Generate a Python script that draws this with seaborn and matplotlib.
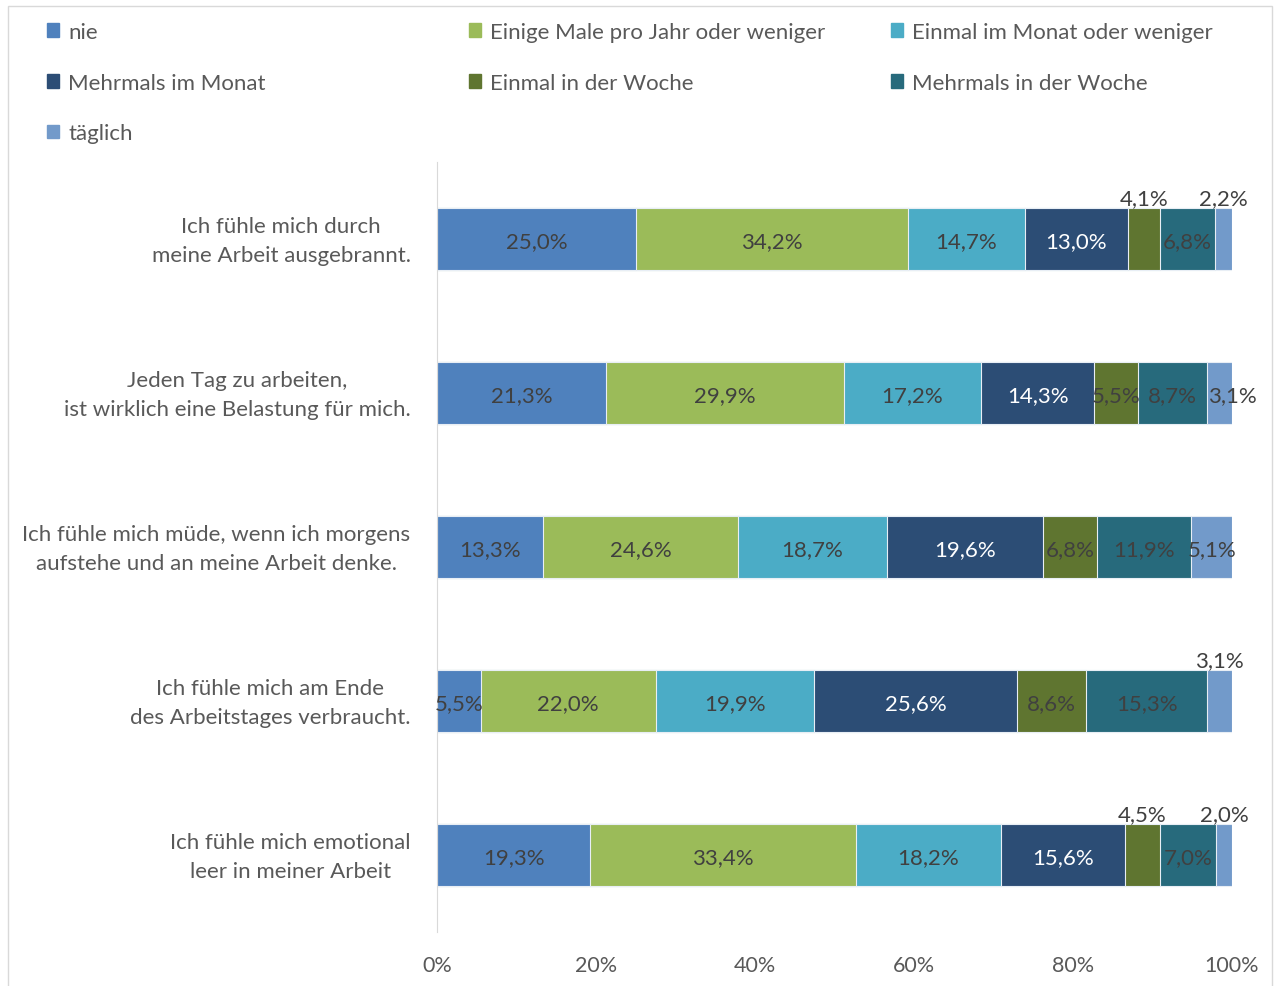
import numpy as np
import pandas as pd
import matplotlib
matplotlib.use("Agg")
import matplotlib.pyplot as plt
import matplotlib.patches as mpatches
import matplotlib.transforms as mtransforms
import seaborn as sns

statements = [
    "Ich fühle mich durch\nmeine Arbeit ausgebrannt.",
    "Jeden Tag zu arbeiten,\nist wirklich eine Belastung für mich.",
    "Ich fühle mich müde, wenn ich morgens\naufstehe und an meine Arbeit denke.",
    "Ich fühle mich am Ende\ndes Arbeitstages verbraucht.",
    "Ich fühle mich emotional\nleer in meiner Arbeit",
]
categories = [
    "nie",
    "Einige Male pro Jahr oder weniger",
    "Einmal im Monat oder weniger",
    "Mehrmals im Monat",
    "Einmal in der Woche",
    "Mehrmals in der Woche",
    "täglich",
]
nie = [25.0, 21.3, 13.3, 5.5, 19.3]
einige_male = [34.2, 29.9, 24.6, 22.0, 33.4]
einmal_monat = [14.7, 17.2, 18.7, 19.9, 18.2]
mehrmals_monat = [13.0, 14.3, 19.6, 25.6, 15.6]
einmal_woche = [4.1, 5.5, 6.8, 8.6, 4.5]
mehrmals_woche = [6.8, 8.7, 11.9, 15.3, 7.0]
taeglich = [2.2, 3.1, 5.1, 3.1, 2.0]

colors = ["#4F81BD", "#9BBB59", "#4BACC6", "#2C4D75", "#5F7530", "#276A7C", "#729ACA"]
# labels drawn above the bar (row index, category index)
above = {(0, 4), (0, 6), (3, 6), (4, 4), (4, 6)}

values = np.array([nie, einige_male, einmal_monat, mehrmals_monat,
                   einmal_woche, mehrmals_woche, taeglich]).T
cum = values.cumsum(axis=1)

sns.set_style("white")
plt.rcParams["font.family"] = ["Lato", "DejaVu Sans"]

fig = plt.figure(figsize=(12.74, 9.87), dpi=100)
ax = fig.add_axes([437 / 1274, 1 - 933 / 987, 795 / 1274, 770 / 987])

# stacked bars: draw cumulative totals from the last category backwards
for j in range(len(categories) - 1, -1, -1):
    df = pd.DataFrame({"stmt": statements, "val": cum[:, j]})
    sns.barplot(data=df, x="val", y="stmt", order=statements, orient="h",
                color=colors[j], saturation=1, width=0.4,
                edgecolor="#E8EEF5", linewidth=0.8, ax=ax)

fs = 16
for i in range(len(statements)):
    for j in range(len(categories)):
        v = values[i, j]
        xc = cum[i, j] - v / 2
        lab = f"{v:.1f}%".replace(".", ",")
        if (i, j) in above:
            ax.text(xc, i - 0.225, lab, ha="center", va="baseline", fontsize=fs, color="#404040")
        else:
            if i == 1 and j == 6:
                xc += 1.6
            tc = "white" if j == 3 else "#404040"
            ax.text(xc, i + 0.012, lab, ha="center", va="center", fontsize=fs, color=tc)

ax.set_xlim(0, 100)
ax.set_xticks(range(0, 101, 20))
ax.set_xticklabels([f"{t}%" for t in range(0, 101, 20)])
ax.set_xlabel("")
ax.set_ylabel("")
ax.tick_params(axis="x", length=0, pad=16.5, labelsize=15.5, labelcolor="#595959")
ax.tick_params(axis="y", length=0, pad=19, labelsize=fs, labelcolor="#595959")
shift_up = mtransforms.ScaledTranslation(0, 5 / 100, fig.dpi_scale_trans)
for lab in ax.get_yticklabels():
    lab.set_multialignment("center")
    lab.set_linespacing(1.55)
    lab.set_transform(lab.get_transform() + shift_up)
for s in ["top", "right", "bottom"]:
    ax.spines[s].set_visible(False)
ax.spines["left"].set_color("#D9D9D9")
ax.grid(False)

# legend: three columns, filled row by row
handles = [mpatches.Patch(color=c, label=l) for c, l in zip(colors, categories)]
col_x = [47, 469, 891]
for k, x0 in enumerate(col_x):
    hs = handles[k::3]
    fig.legend(handles=hs, loc="upper left", bbox_to_anchor=(x0 / 1274, 1 - 23 / 987),
               frameon=False, fontsize=fs, labelcolor="#595959",
               handlelength=0.55, handleheight=0.55, handletextpad=0.4,
               labelspacing=1.38, borderpad=0, borderaxespad=0)

fig.add_artist(mpatches.Rectangle((8 / 1274, -0.01), 1264 / 1274, 1.01 - 7 / 987,
                                  transform=fig.transFigure, fill=False,
                                  edgecolor="#D9D9D9", linewidth=1))

fig.savefig("out.png", dpi=100)
